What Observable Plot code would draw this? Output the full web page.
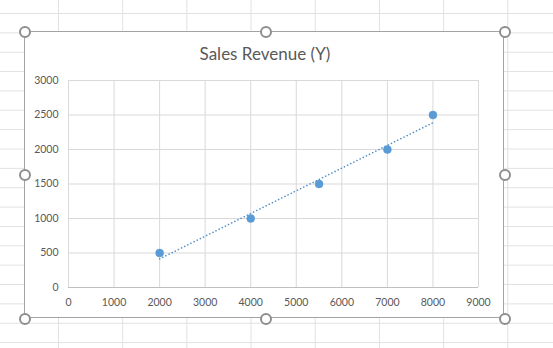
<!DOCTYPE html>
<html>
<head>
<meta charset="utf-8">
<script src="https://cdn.jsdelivr.net/npm/d3@7"></script>
<script src="https://cdn.jsdelivr.net/npm/@observablehq/plot@0.6"></script>
<style>
  html, body { margin: 0; padding: 0; background: #fff; }
  #sheet {
    position: relative;
    width: 553px; height: 348px; overflow: hidden;
    background-color: #fff;
    background-image:
      linear-gradient(to right, #e1e1e1 1px, transparent 1px),
      linear-gradient(to bottom, #e1e1e1 1px, transparent 1px);
    background-size: 64.2px 100%, 100% 19.37px;
    background-position: 58px 0, 0 13px;
    font-family: Lato, "Open Sans", sans-serif;
  }
  #frame {
    position: absolute; left: 25px; top: 32px; width: 480px; height: 287px;
    background: #fff; border: 1.5px solid #a3a3a3; box-sizing: border-box;
    margin-left: -0.75px; margin-top: -0.75px;
  }
  #title {
    position: absolute; left: 25px; width: 480px; top: 42px;
    text-align: center; font-size: 17px; color: #595959; line-height: 24px;
  }
  #chart { position: absolute; left: 25px; top: 62px; }
  .handle {
    position: absolute; width: 8px; height: 8px; border-radius: 50%;
    background: #fff; border: 2px solid #8e8e8e;
    transform: translate(-50%, -50%);
  }
</style>
</head>
<body>
<div id="sheet">
  <div id="frame"></div>
  <div id="title">Sales Revenue (Y)</div>
  <div id="chart"></div>
</div>
<script>
// Advertising spend (X) against sales revenue (Y)
const advertising = [2000, 4000, 5500, 7000, 8000];
const revenue = [500, 1000, 1500, 2000, 2500];
const xTicks = [0, 1000, 2000, 3000, 4000, 5000, 6000, 7000, 8000, 9000];
const yTicks = [0, 500, 1000, 1500, 2000, 2500, 3000];

const points = advertising.map((x, i) => ({x, y: revenue[i]}));

const blue = "#5b9bd5";
const gridColor = "#d9d9d9";
const labelColor = "#595959";
const plain = d => String(d);

const plot = Plot.plot({
  width: 480,
  height: 250,
  marginLeft: 43,
  marginRight: 27,
  marginTop: 18,
  marginBottom: 25,
  style: {fontFamily: "Lato, 'Open Sans', sans-serif", fontSize: "10.5px", color: labelColor, background: "transparent"},
  x: {domain: [0, 9000], label: null},
  y: {domain: [0, 3000], label: null},
  marks: [
    Plot.gridX(xTicks, {stroke: gridColor, strokeOpacity: 1}),
    Plot.gridY(yTicks, {stroke: gridColor, strokeOpacity: 1}),
    Plot.ruleY([0], {stroke: "#bfbfbf"}),
    Plot.axisX(xTicks, {tickSize: 0, tickPadding: 11, tickFormat: plain, fill: labelColor, label: null}),
    Plot.axisY(yTicks, {tickSize: 0, tickPadding: 10, tickFormat: plain, fill: labelColor, label: null}),
    // linear trendline, drawn as round dots
    Plot.linearRegressionY(points, {
      x: "x", y: "y", ci: 0,
      stroke: "#4f8fca", strokeWidth: 1.6,
      strokeDasharray: "0.1 3.4", strokeLinecap: "round"
    }),
    Plot.dot(points, {x: "x", y: "y", r: 4, fill: blue, stroke: blue, strokeWidth: 0.5})
  ]
});
document.getElementById("chart").appendChild(plot);

// Selection handles around the chart object
const handlePos = [
  [25, 32], [266, 32], [505, 32],
  [25, 175], [505, 175],
  [25, 319], [266, 319], [505, 319]
];
const sheet = document.getElementById("sheet");
for (const [hx, hy] of handlePos) {
  const h = document.createElement("div");
  h.className = "handle";
  h.style.left = hx + "px";
  h.style.top = hy + "px";
  sheet.appendChild(h);
}
</script>
</body>
</html>
